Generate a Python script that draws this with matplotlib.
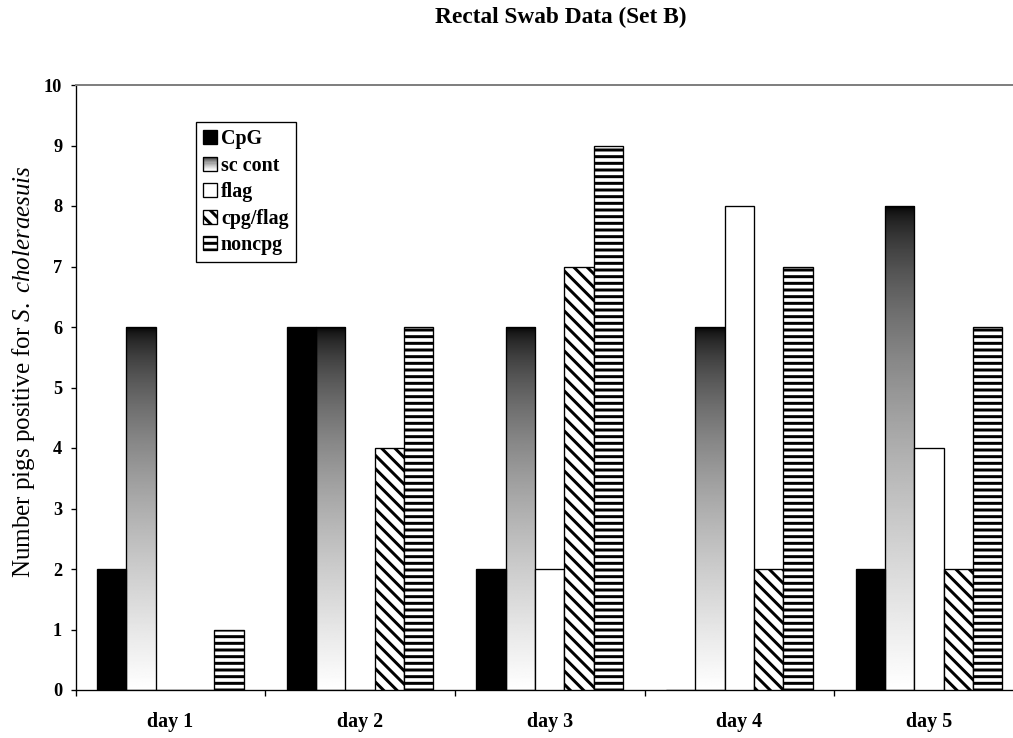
"""Rectal swab data (Set B): clustered bars by day."""

import numpy as np
import matplotlib
matplotlib.use("Agg")
import matplotlib.pyplot as plt
from matplotlib.patches import Patch, Rectangle
from matplotlib.legend_handler import HandlerBase

matplotlib.rcParams["font.family"] = "Liberation Serif"
matplotlib.rcParams["font.weight"] = "bold"
matplotlib.rcParams["mathtext.fontset"] = "custom"
matplotlib.rcParams["mathtext.it"] = "Liberation Serif:italic:normal"
matplotlib.rcParams["mathtext.rm"] = "Liberation Serif:normal"
matplotlib.rcParams["hatch.linewidth"] = 1.8
matplotlib.rcParams["hatch.color"] = "black"

days = ["day 1", "day 2", "day 3", "day 4", "day 5"]
series = ["CpG", "sc cont", "flag", "cpg/flag", "noncpg"]
cpg = [2, 6, 2, 0, 2]
sc_cont = [6, 6, 6, 6, 8]
flag = [0, 0, 2, 8, 4]
cpg_flag = [0, 4, 7, 2, 2]
noncpg = [1, 6, 9, 7, 6]
yticks = list(range(0, 11))

DPI = 120
fig = plt.figure(figsize=(1013 / DPI, 738 / DPI), dpi=DPI)
ax = fig.add_axes([75.5 / 1013, 48 / 738, 948.5 / 1013, 605 / 738])

x = np.arange(len(days))
w = 0.1545
edge_lw = 0.8


def gradient(frac):
    return frac ** 0.55


grad_img = gradient(np.linspace(0, 1, 256)).reshape(-1, 1)

# CpG - solid black
ax.bar(x - 2 * w, cpg, w, color="black", edgecolor="black", linewidth=edge_lw, zorder=3)

# sc cont - black-to-white gradient per bar
for xi, h in zip(x - w, sc_cont):
    x0 = xi - w / 2
    ax.imshow(grad_img, cmap="gray", vmin=0, vmax=1, aspect="auto",
              extent=[x0, x0 + w, 0, h], origin="upper", zorder=2,
              interpolation="bilinear")
ax.bar(x - w, sc_cont, w, facecolor="none", edgecolor="black", linewidth=edge_lw, zorder=3)

# flag - white
ax.bar(x, flag, w, color="white", edgecolor="black", linewidth=edge_lw, zorder=3)

# cpg/flag - diagonal stripes
ax.bar(x + w, cpg_flag, w, color="white", edgecolor="black", hatch="\\\\\\",
       linewidth=edge_lw, zorder=3)

# noncpg - horizontal stripes
ax.bar(x + 2 * w, noncpg, w, color="white", edgecolor="black", hatch="---",
       linewidth=edge_lw, zorder=3)

ax.set_xlim(-0.5, len(days) - 0.5)
ax.set_ylim(0, 10)
ax.set_yticks(yticks)
ax.set_yticklabels([str(t) for t in yticks], fontsize=11, fontweight="bold")
ax.set_xticks(x)
ax.set_xticklabels(days, fontsize=12, fontweight="bold")
ax.set_xticks(np.arange(-0.5, len(days)), minor=True)
ax.tick_params(axis="x", which="major", length=0, pad=13)
ax.tick_params(axis="x", which="minor", length=3.5, direction="out", width=0.8)
ax.tick_params(axis="y", length=3, direction="out", width=0.8, pad=5)

ax.spines["top"].set_color("#808080")
ax.spines["top"].set_linewidth(1.2)
ax.spines["right"].set_color("#808080")
ax.spines["left"].set_linewidth(0.8)
ax.spines["bottom"].set_linewidth(0.8)


class HandlerGradient(HandlerBase):
    def create_artists(self, legend, orig_handle, xdescent, ydescent,
                       width, height, fontsize, trans):
        n = 12
        arts = []
        for i in range(n):
            g = gradient((i + 0.5) / n)
            r = Rectangle((-xdescent, -ydescent + height * (n - 1 - i) / n),
                          width, height / n, facecolor=(g, g, g),
                          edgecolor="none", transform=trans)
            arts.append(r)
        arts.append(Rectangle((-xdescent, -ydescent), width, height,
                              facecolor="none", edgecolor="black",
                              linewidth=edge_lw, transform=trans))
        return arts


handles = [
    Patch(facecolor="black", edgecolor="black", linewidth=edge_lw),
    Patch(facecolor="gray", edgecolor="black", linewidth=edge_lw),
    Patch(facecolor="white", edgecolor="black", linewidth=edge_lw),
    Patch(facecolor="white", edgecolor="black", hatch="\\\\\\", linewidth=edge_lw),
    Patch(facecolor="white", edgecolor="black", hatch="---", linewidth=edge_lw),
]
leg = ax.legend(handles, series, loc="upper left",
                bbox_to_anchor=(196 / 1013, 1 - 122 / 738),
                bbox_transform=fig.transFigure, borderaxespad=0,
                prop={"family": "Liberation Serif", "weight": "bold", "size": 12},
                handlelength=0.7, handleheight=0.7, handletextpad=0.2,
                labelspacing=0.33, borderpad=0.35, fancybox=False,
                framealpha=1, edgecolor="black",
                handler_map={handles[1]: HandlerGradient()})
leg.get_frame().set_linewidth(0.8)
leg.set_zorder(5)

fig.text(561 / 1013, 1 - 17 / 738, "Rectal Swab Data (Set B)", ha="center",
         va="center", fontsize=14, fontweight="bold")
fig.text(24 / 1013, 1 - 372 / 738,
         r"Number pigs positive for $\mathit{S.\ choleraesuis}$",
         rotation=90, ha="center", va="center", fontsize=15, fontweight="normal")

fig.savefig("out.png", dpi=DPI)
print("out.png created")
